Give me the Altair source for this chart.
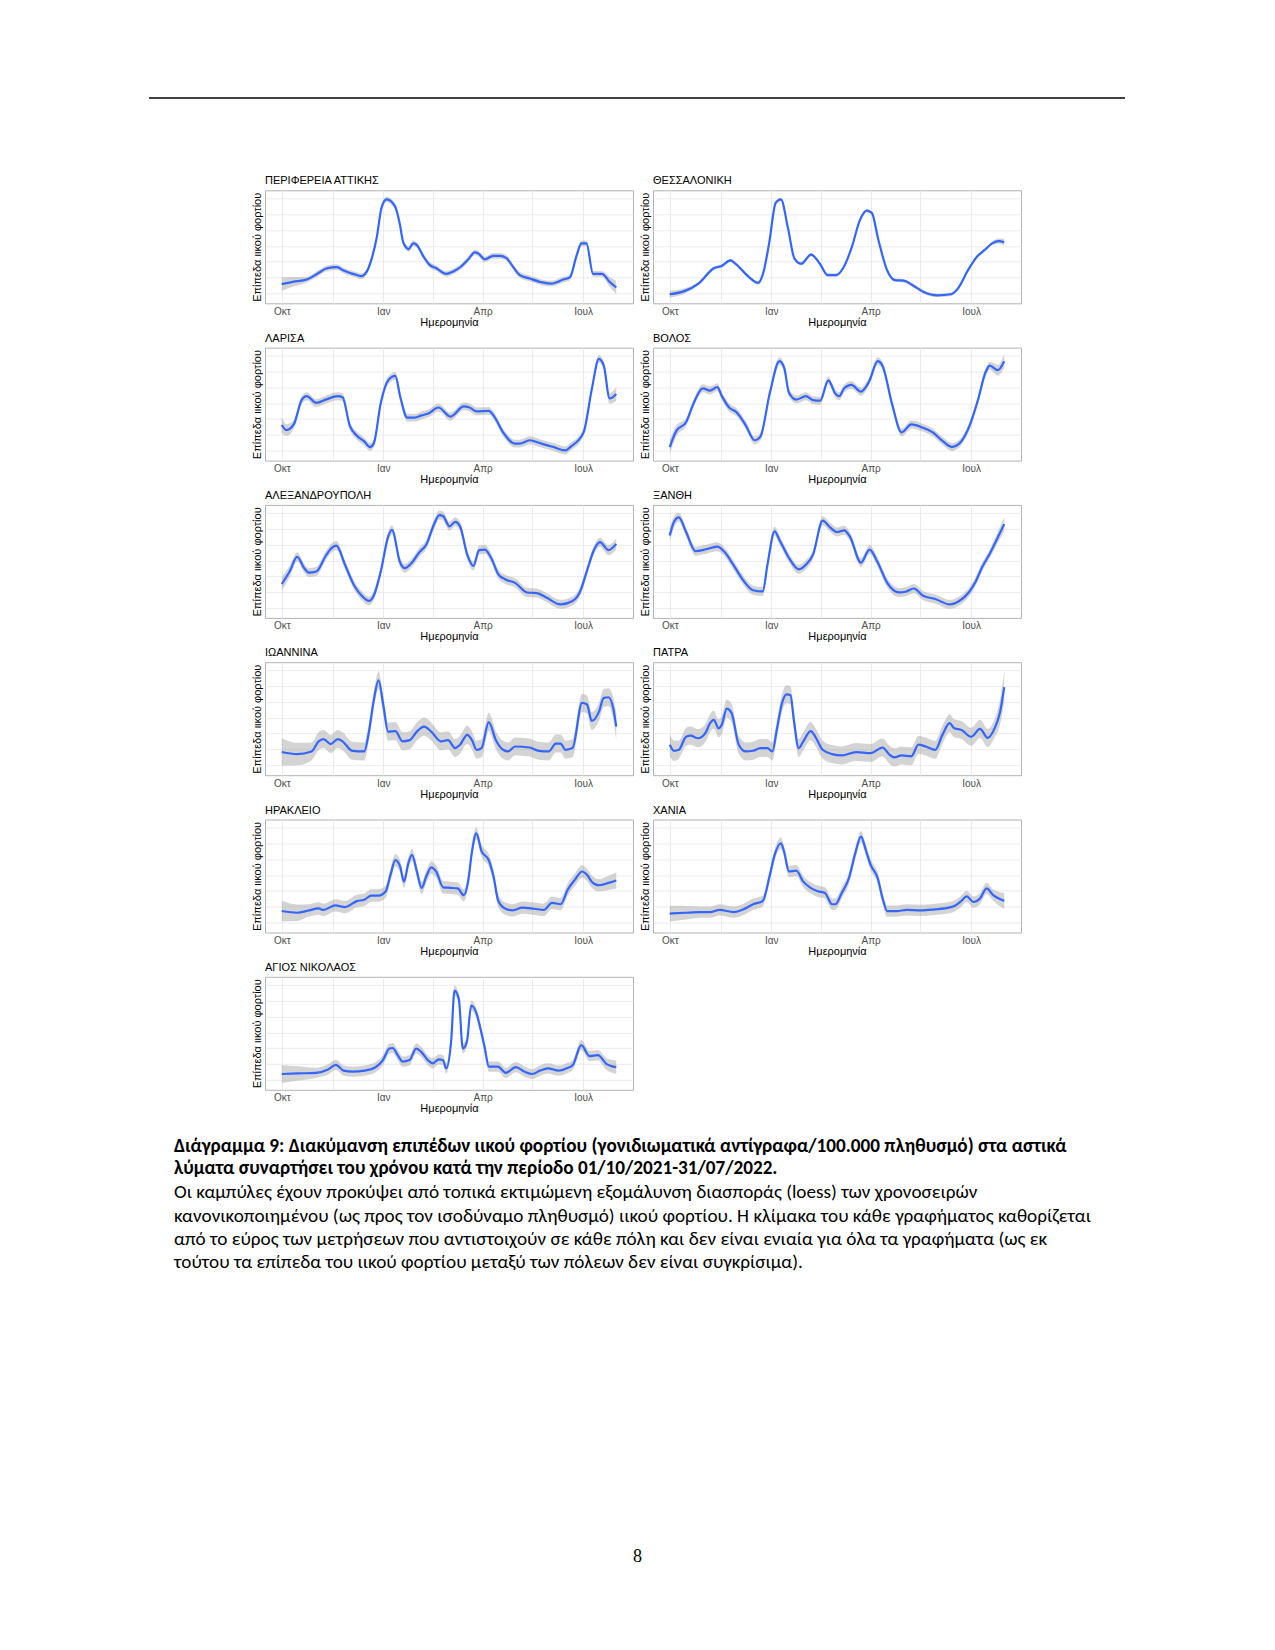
import altair as alt
import pandas as pd
from datetime import datetime, timedelta

# ---------------- data (y = position in % of panel height) ----------------
START = datetime(2021, 10, 1)

NAMES = ["ΠΕΡΙΦΕΡΕΙΑ ΑΤΤΙΚΗΣ", "ΘΕΣΣΑΛΟΝΙΚΗ", "ΛΑΡΙΣΑ", "ΒΟΛΟΣ", "ΑΛΕΞΑΝΔΡΟΥΠΟΛΗ", "ΞΑΝΘΗ",
         "ΙΩΑΝΝΙΝΑ", "ΠΑΤΡΑ", "ΗΡΑΚΛΕΙΟ", "ΧΑΝΙΑ", "ΑΓΙΟΣ ΝΙΚΟΛΑΟΣ"]

ATTIKI_DAYS = [0, 10, 22.6, 32, 41, 50, 56, 68, 72, 77, 81, 86, 90.5, 95, 102.5, 107, 110, 115, 119, 122, 128, 134,
               140, 149, 155, 163, 169, 175, 178, 184, 191.5, 197.5, 203.6, 209.7, 215.7, 224.7, 233.8, 244, 255, 261,
               267, 271.5, 276, 282, 290, 297, 303]
ATTIKI_VALS = [17, 19, 21, 26, 31, 32, 29, 25, 24, 28, 38, 58, 85, 92, 86, 70, 54, 48, 53, 52, 42, 34, 31, 26, 28, 33,
               39, 45, 44, 39, 42, 42, 40, 32, 25, 22, 19, 17.5, 21, 23, 42, 53, 53, 26, 26, 19, 14]

THESS_DAYS = [0, 13.7, 26, 40, 47, 55, 59.5, 72, 80, 85, 90, 96, 100.7, 107, 113, 119, 128, 136, 143, 151, 157, 165,
              172, 178.5, 183, 189, 197, 204, 212, 220, 230, 242.5, 254.7, 261, 270, 279, 285, 292, 298, 303]
THESS_VALS = [8, 11, 17.5, 31, 33, 38, 35, 23, 18, 28, 53, 89, 92, 67, 39.5, 35, 43, 35, 25, 25, 31, 50, 73, 82, 80,
              56, 29, 20.5, 20, 16, 10, 7, 8, 13, 29, 42, 47, 53, 55, 54]

LARISA_DAYS = [0, 4.3, 10.9, 18.2, 22.6, 31.3, 39.9, 50.8, 55.1, 61.6, 68.1, 74.7, 79.9, 83.3, 89.8, 96.4, 102.9,
               107.2, 113.7, 120.2, 126.7, 133.2, 141.9, 152.8, 164.9, 170.1, 176.6, 187.5, 191.8, 200.5, 211.4, 215.7,
               224.4, 235.2, 246.1, 256.9, 261.3, 273.4, 280.8, 287.3, 291.7, 297, 303]
LARISA_VALS = [31.5, 27, 32, 54, 57, 51, 54, 57, 56, 31, 22, 17, 12, 15, 51.5, 71, 75, 57, 38, 38, 40, 42, 47, 39, 48,
               47, 43.5, 44, 40, 25, 15, 15, 18, 15, 12, 9, 12, 25, 63, 90, 84, 55, 59]

VOLOS_DAYS = [0, 6.1, 14.8, 21.3, 29.9, 36.5, 43, 47.3, 53.8, 60.3, 69, 76.8, 82, 90.7, 99.4, 103.7, 108, 114.6,
              123.3, 129.8, 136.3, 143.6, 150.2, 153.6, 158, 164.5, 173.2, 180.6, 188.4, 192.7, 201.4, 210, 218.8,
              229.6, 238.3, 247, 255.6, 262.2, 270.8, 279, 286, 290, 297, 303]
VOLOS_VALS = [12, 26.5, 34, 50, 64, 62, 65, 57, 47, 43, 31, 18, 21, 60, 88, 82, 60, 54, 57, 53.5, 53, 71, 59, 57, 64,
              67, 61, 70, 88, 84, 50, 25, 32, 29, 25, 17.5, 12, 15, 29, 53, 78, 84, 80, 88]

ALEX_DAYS = [0, 7.4, 13.9, 20.4, 24.7, 31.3, 39.9, 44.3, 49.5, 57.3, 66, 72.5, 79, 83.3, 89.8, 96.4, 99.8, 107.2,
             111.5, 118, 124.6, 131, 137.6, 142.8, 146.3, 151.9, 157.1, 161.5, 168, 173.6, 178.8, 184, 189.7, 196.2,
             202.7, 211.4, 222.2, 230.9, 239.6, 252.6, 263.4, 269.9, 276.4, 283, 288.2, 296, 303]
ALEX_VALS = [30, 41.5, 54, 44, 40, 41, 55, 61, 64, 47, 28, 19.6, 15, 19.6, 41.5, 72, 78, 49, 44, 49, 58, 65, 82, 91,
             90, 81, 85, 81, 56, 46, 60, 60.5, 53, 38.6, 34, 31, 22.5, 22, 18, 12, 15, 22.5, 41.5, 60.5, 67, 60, 65.5]

XANTHI_DAYS = [0, 3.9, 8.2, 14.8, 23.4, 32.1, 43, 49.5, 58.2, 66.8, 75.5, 84.2, 88.5, 95, 99.4, 108, 116.8, 123.3,
               129.8, 138.5, 145, 151.5, 158, 163.2, 173.2, 181, 188.4, 197, 207.9, 214.4, 221, 229.6, 240.5, 253.5,
               262.2, 270.8, 277, 283, 290, 296, 303]
XANTHI_VALS = [73, 85, 89, 76, 59, 60.5, 63, 58.5, 46, 33, 24.5, 23.4, 47, 76.6, 69, 53, 43, 47, 56, 86, 80.4, 76,
               77.5, 72, 49, 60.5, 49, 31, 22.5, 23.4, 26, 19.6, 16.7, 12, 15, 22.5, 32, 45, 57, 69, 83]

IOANN_DAYS = [0, 13.9, 26.9, 33.4, 37.8, 44.3, 50.8, 55.1, 63.8, 74.7, 79, 83.3, 87.7, 92, 96.4, 102.9, 109.4, 115.9,
              122.4, 128.9, 135.4, 144, 150.6, 157.1, 161.5, 168, 172.3, 176.6, 181, 187.5, 194, 200.5, 204.9, 211.4,
              224.4, 233, 241.8, 248.3, 252.6, 257, 263.4, 272, 276.5, 280.8, 287.3, 291.7, 296, 300.3, 303]
IOANN_VALS = [20.5, 18.7, 21, 30, 32, 27.5, 32, 30, 21.6, 21, 38.6, 66, 84, 62, 38.6, 39, 30, 31, 38.6, 43, 38.6, 30,
              31, 24, 27, 35.7, 31, 22.5, 24, 47, 31, 22.5, 21, 25.4, 24.5, 21.6, 21, 28, 28, 22.5, 24, 64, 62.6, 48,
              56, 68.4, 69, 59, 43]

PATRA_DAYS = [0, 3.9, 8.2, 14.8, 19, 25.6, 32.1, 36.5, 39.9, 44.3, 47.3, 51.6, 56, 62.5, 69, 75.5, 82, 88.5, 92.9,
              97.2, 101.6, 105.9, 109.4, 112.4, 116.8, 121, 127.6, 131.9, 138.5, 147, 155.8, 168.8, 181.9, 192.7,
              199.2, 203.6, 210, 218.8, 225.3, 231.8, 240.5, 247, 253.5, 257.8, 264.3, 273, 281, 288, 294, 299, 303]
PATRA_VALS = [27, 21.6, 22.5, 34, 35, 32.7, 37, 46, 49, 41.5, 45, 59, 55, 27, 21, 21.6, 24, 24, 21, 41.5, 63.5, 71.6,
              70.8, 49, 24, 30, 39, 34, 22.5, 18.7, 17.5, 20.5, 19.6, 24.5, 18, 15.8, 17.5, 16.7, 27, 25.4, 22.5, 35.7,
              46, 41.5, 40, 34, 41, 33, 41, 55, 78]

HERAK_DAYS = [0, 13.9, 24.7, 33.4, 37.8, 48.6, 57.3, 68.1, 74.7, 81.2, 87.7, 94.2, 98.5, 102.9, 107.2, 110.7, 114.6,
              118, 122.4, 126.7, 131, 135.4, 139.8, 146.3, 152.8, 159.3, 164.9, 168.8, 172.3, 176.2, 181, 187.5, 191.8,
              196.2, 202.7, 209.2, 217.9, 228.7, 237.4, 244.8, 252.6, 259.1, 265.6, 272.1, 276.5, 280.8, 287.3, 296,
              303]
HERAK_VALS = [19, 17.5, 19.6, 21.3, 20, 24, 22.5, 27.8, 29, 32.7, 32.7, 36.5, 51, 64, 58.5, 45, 61, 68.7, 54, 39.5,
              49.7, 57.6, 54, 40, 39.5, 39, 33, 45, 71.6, 87.7, 72, 64, 49.7, 27.8, 21, 19.6, 22, 21, 20, 26.3, 25,
              38, 46.8, 54, 51, 45, 41.8, 43.9, 46]

CHANIA_DAYS = [0, 14.8, 27.8, 36.5, 45, 58.2, 66.8, 75.5, 84.2, 90.7, 95, 100.7, 103.7, 108, 114.6, 121, 127.6, 134,
               140.6, 147, 150, 155.8, 162.3, 168, 173.2, 177.6, 181.9, 188.4, 192.7, 197, 205.7, 214.4, 227.4, 240.5,
               249, 257.8, 264, 269, 275, 281, 287, 293, 298, 303]
CHANIA_VALS = [16.7, 17.5, 18, 18, 20, 18, 20.5, 25, 27.8, 51, 68.7, 79, 71, 54, 54.7, 45, 39.5, 36.5, 35, 25, 25, 35,
               48, 70, 84.8, 73, 60, 48, 30.7, 19, 19, 20, 19.6, 20.5, 21.3, 23.4, 27.8, 32, 27, 30, 39, 33, 30, 28]

AGIOS_DAYS = [0, 15, 31, 42, 49, 56, 64, 75, 85, 91.5, 97.6, 100.6, 105, 109.7, 115.7, 121.8, 126.3, 132.3, 136.9,
              142.3, 146, 149, 153.5, 156.5, 160.4, 164, 167.7, 171.6, 176, 180.7, 183.7, 187.6, 195.8, 203, 212, 220,
              227, 234, 241, 251, 258, 263.7, 271.3, 278.9, 286.4, 294, 303]
AGIOS_VALS = [14, 14.5, 15, 18, 22, 17, 16, 17, 20, 26, 36.5, 37, 30.7, 24.9, 26.3, 36.5, 33.6, 26.3, 23.4, 27, 26.3,
              19, 44, 87.7, 80.4, 36.5, 42.4, 74.6, 68.7, 51.2, 38, 20.5, 20.5, 15, 20, 16, 14, 17, 19, 17, 19, 22,
              39.5, 29.8, 30.7, 23, 20]

# confidence band half-widths (middle, start edge, end edge), in % of panel height
BANDS = [(2.5, 6, 6), (1.5, 3, 3), (3.5, 7, 6), (3.5, 6, 6), (4, 6, 5), (4, 6, 6),
         (8, 12, 12), (8, 10, 14), (5.5, 9, 7), (5, 7, 7), (4.5, 8, 6)]

SERIES = [(ATTIKI_DAYS, ATTIKI_VALS), (THESS_DAYS, THESS_VALS), (LARISA_DAYS, LARISA_VALS), (VOLOS_DAYS, VOLOS_VALS),
          (ALEX_DAYS, ALEX_VALS), (XANTHI_DAYS, XANTHI_VALS), (IOANN_DAYS, IOANN_VALS), (PATRA_DAYS, PATRA_VALS),
          (HERAK_DAYS, HERAK_VALS), (CHANIA_DAYS, CHANIA_VALS), (AGIOS_DAYS, AGIOS_VALS)]

MONTHS_GR = ['Ιαν', 'Φεβ', 'Μαρ', 'Απρ', 'Μαΐ', 'Ιουν', 'Ιουλ', 'Αυγ', 'Σεπ', 'Οκτ', 'Νοε', 'Δεκ']
X_TITLE = "Ημερομηνία"
Y_TITLE = "Επίπεδα ιικού φορτίου"

CAPTION_BOLD = [
    "Διάγραμμα 9: Διακύμανση επιπέδων ιικού φορτίου (γονιδιωματικά αντίγραφα/100.000 πληθυσμό) στα αστικά",
    "λύματα συναρτήσει του χρόνου κατά την περίοδο 01/10/2021-31/07/2022.",
]
CAPTION_TEXT = [
    "Οι καμπύλες έχουν προκύψει από τοπικά εκτιμώμενη εξομάλυνση διασποράς (loess) των χρονοσειρών",
    "κανονικοποιημένου (ως προς τον ισοδύναμο πληθυσμό) ιικού φορτίου. Η κλίμακα του κάθε γραφήματος καθορίζεται",
    "από το εύρος των μετρήσεων που αντιστοιχούν σε κάθε πόλη και δεν είναι ενιαία για όλα τα γραφήματα (ως εκ",
    "τούτου τα επίπεδα του ιικού φορτίου μεταξύ των πόλεων δεν είναι συγκρίσιμα).",
]
PAGE_NUMBER = "8"

# ---------------- styling ----------------
FONT = "Liberation Sans"
CAP_FONT = "Carlito, Liberation Sans"
PW, PH = 368, 113
COL_GAP, ROW_GAP = 20, 44.3
SPACER_W = 96
GRID = "#e6e6e6"
NOSTROKE = alt.ViewBackground(stroke="transparent", strokeOpacity=0)


def iso(d):
    return (START + timedelta(days=d)).strftime("%Y-%m-%dT%H:%M:%SZ")


DOM = [alt.DateTime(year=2021, month=9, date=15, hours=20, utc=True),
       alt.DateTime(year=2022, month=8, date=15, hours=4, utc=True)]
XVALS = [alt.DateTime(year=2021, month=10, date=1, utc=True), alt.DateTime(year=2021, month=11, date=16, utc=True),
         alt.DateTime(year=2022, month=1, date=1, utc=True), alt.DateTime(year=2022, month=2, date=15, utc=True),
         alt.DateTime(year=2022, month=4, date=1, utc=True), alt.DateTime(year=2022, month=5, date=16, utc=True),
         alt.DateTime(year=2022, month=7, date=1, utc=True)]
LABEL_EXPR = "utcdate(datum.value) == 1 ? [" + ",".join("'%s'" % m for m in MONTHS_GR) + "][utcmonth(datum.value)] : ''"
YGRID = [9, 23, 37, 50.5, 64.5, 78.5, 92.5]

XAXIS = alt.Axis(values=XVALS, labelExpr=LABEL_EXPR, title=X_TITLE, grid=True, gridColor=GRID, gridWidth=0.8,
                 ticks=False, domain=False, labelFont=FONT, labelFontSize=10, labelColor="#4d4d4d", labelPadding=3,
                 labelFlush=False, labelOverlap=False, titleFont=FONT, titleFontSize=11, titleFontWeight="normal",
                 titleColor="black", titlePadding=0)
YAXIS = alt.Axis(values=YGRID, labels=False, ticks=False, domain=False, grid=True, gridColor=GRID, gridWidth=0.8,
                 title=Y_TITLE, titleFont=FONT, titleFontSize=11, titleFontWeight="normal", titleColor="black",
                 titlePadding=2.5)


def panel(name, days, vals, band):
    base, e0, e1 = band
    n = len(days)
    hw = [base] * n
    hw[0], hw[1] = e0, (e0 + base) / 2
    hw[-1], hw[-2] = e1, (e1 + base) / 2
    df = pd.DataFrame({
        "date": [iso(d) for d in days],
        "v": vals,
        "lo": [v - h for v, h in zip(vals, hw)],
        "hi": [v + h for v, h in zip(vals, hw)],
    })
    x = alt.X("date:T", scale=alt.Scale(type="utc", domain=DOM), axis=XAXIS)
    ys = alt.Scale(domain=[0, 100], nice=False, zero=False)
    area = alt.Chart(df).mark_area(color="#999999", opacity=0.42, interpolate="monotone", clip=True).encode(
        x=x, y=alt.Y("lo:Q", scale=ys, axis=YAXIS), y2="hi:Q")
    line = alt.Chart(df).mark_line(color="#3366FF", strokeWidth=2.2, interpolate="monotone", clip=True).encode(
        x=x, y=alt.Y("v:Q", scale=ys, axis=YAXIS))
    return alt.layer(area, line).properties(
        width=PW, height=PH,
        title=alt.TitleParams(name, anchor="start", frame="group", font=FONT, fontSize=11, fontWeight="normal",
                              color="black", offset=4),
        view=alt.ViewBackground(stroke="#b3b3b3", strokeWidth=1, fill="white"))


DUMMY = pd.DataFrame({"a": [0]})


def blank(w, h):
    return alt.Chart(DUMMY).mark_point(opacity=0).encode(x=alt.value(0), y=alt.value(0)).properties(
        width=w, height=h, view=NOSTROKE)


header = alt.Chart(DUMMY).mark_rule(color="black", strokeWidth=1.3).encode(
    x=alt.value(0), x2=alt.value(976), y=alt.value(0)).properties(width=SPACER_W, height=48, view=NOSTROKE)

cap_layers = []
cap_y = [12, 34.1, 58.3, 81.5, 104.7, 127.9]
for i, t in enumerate(CAPTION_BOLD + CAPTION_TEXT):
    cap_layers.append(alt.Chart(DUMMY).mark_text(
        text=t, align="left", baseline="middle", font=CAP_FONT, fontSize=19.2,
        fontWeight="bold" if i < 2 else "normal", color="black").encode(x=alt.value(25), y=alt.value(cap_y[i])))
cap_layers.append(alt.Chart(DUMMY).mark_text(
    text=PAGE_NUMBER, align="center", baseline="middle", font="Liberation Serif", fontSize=18, color="black").encode(
    x=alt.value(488.5), y=alt.value(422.5)))
footer = alt.layer(*cap_layers).properties(width=SPACER_W, height=432, view=NOSTROKE)

panels = [panel(NAMES[i], SERIES[i][0], SERIES[i][1], BANDS[i]) for i in range(len(NAMES))]

cells = [header, blank(PW, 48), blank(PW, 48)]
for r in range(5):
    cells += [blank(SPACER_W, PH), panels[2 * r], panels[2 * r + 1]]
cells += [blank(SPACER_W, PH), panels[10], blank(PW, PH)]
cells += [footer, blank(PW, 10), blank(PW, 10)]

chart = alt.concat(*cells, columns=3, spacing={"row": ROW_GAP, "column": COL_GAP}, bounds="flush", align="each",
                   padding={"left": 138, "top": 87, "right": 10, "bottom": 10}).configure_view(
    strokeWidth=0).configure(background="white")

chart.save("out.html", embed_options={"renderer": "svg", "actions": False})
